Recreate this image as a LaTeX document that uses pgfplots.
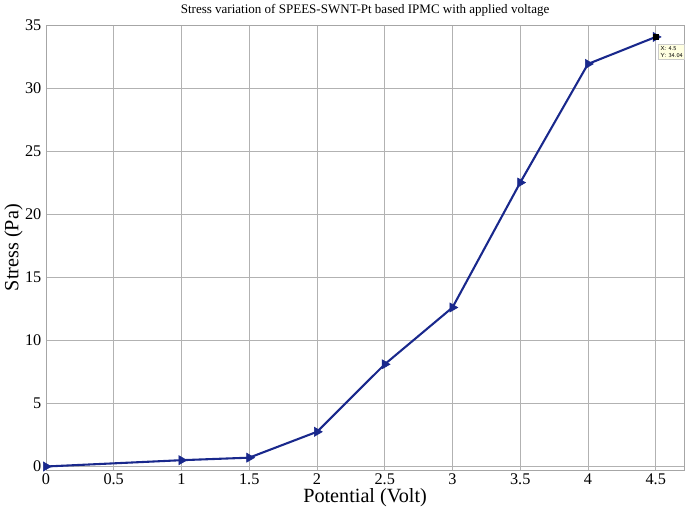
\documentclass[border=0pt]{standalone}
\usepackage{fontspec}
\setmainfont{Liberation Serif}
\usepackage{pgfplots}
\pgfplotsset{compat=1.18}
\definecolor{linecol}{RGB}{25,40,140}
\definecolor{tipbg}{RGB}{255,255,225}
\begin{document}
\begin{tikzpicture}
\begin{axis}[
  scale only axis,
  width=490pt, height=342pt,
  xmin=0, xmax=4.71, ymin=-0.3, ymax=35,
  xtick={0,0.5,...,4.5}, ytick={0,5,...,35},
  grid=major,
  major grid style={gray!60, line width=0.5pt},
  axis line style={gray!70},
  tick style={draw=none},
  /pgf/number format/assume math mode=true,
  xticklabel={\pgfmathprintnumber{\tick}},
  yticklabel={\pgfmathprintnumber{\tick}},
  ticklabel style={font=\rmfamily\fontsize{12.5}{14}\selectfont},
  xticklabel style={yshift=1pt},
  label style={font=\fontsize{15.5}{17}\selectfont},
  title style={font=\fontsize{10}{12}\selectfont, yshift=-3pt},
  title={Stress variation of SPEES-SWNT-Pt based IPMC with applied voltage},
  xlabel={Potential (Volt)},
  ylabel={Stress (Pa)},
  xlabel style={yshift=4pt},
  ylabel style={yshift=-5pt},
  clip=false,
]
\addplot[color=linecol, line width=1.6pt, mark=triangle*, mark size=4pt,
  mark options={rotate=-90, fill=linecol, line width=0.5pt}]
  coordinates {(0,0) (1,0.5) (1.5,0.7) (2,2.75) (2.5,8.1) (3,12.6) (3.5,22.5) (4,31.9) (4.5,34.04)};
\addplot[only marks, mark=square*, mark size=2pt, color=black] coordinates {(4.5,34.04)};
\node[anchor=north west, fill=tipbg, draw=gray!40, inner sep=1.5pt, align=left,
  font=\fontsize{4.5}{5.5}\selectfont\sffamily] at (axis cs:4.52,33.5) {X: 4.5\\Y: 34.04};
\end{axis}
\end{tikzpicture}
\end{document}
